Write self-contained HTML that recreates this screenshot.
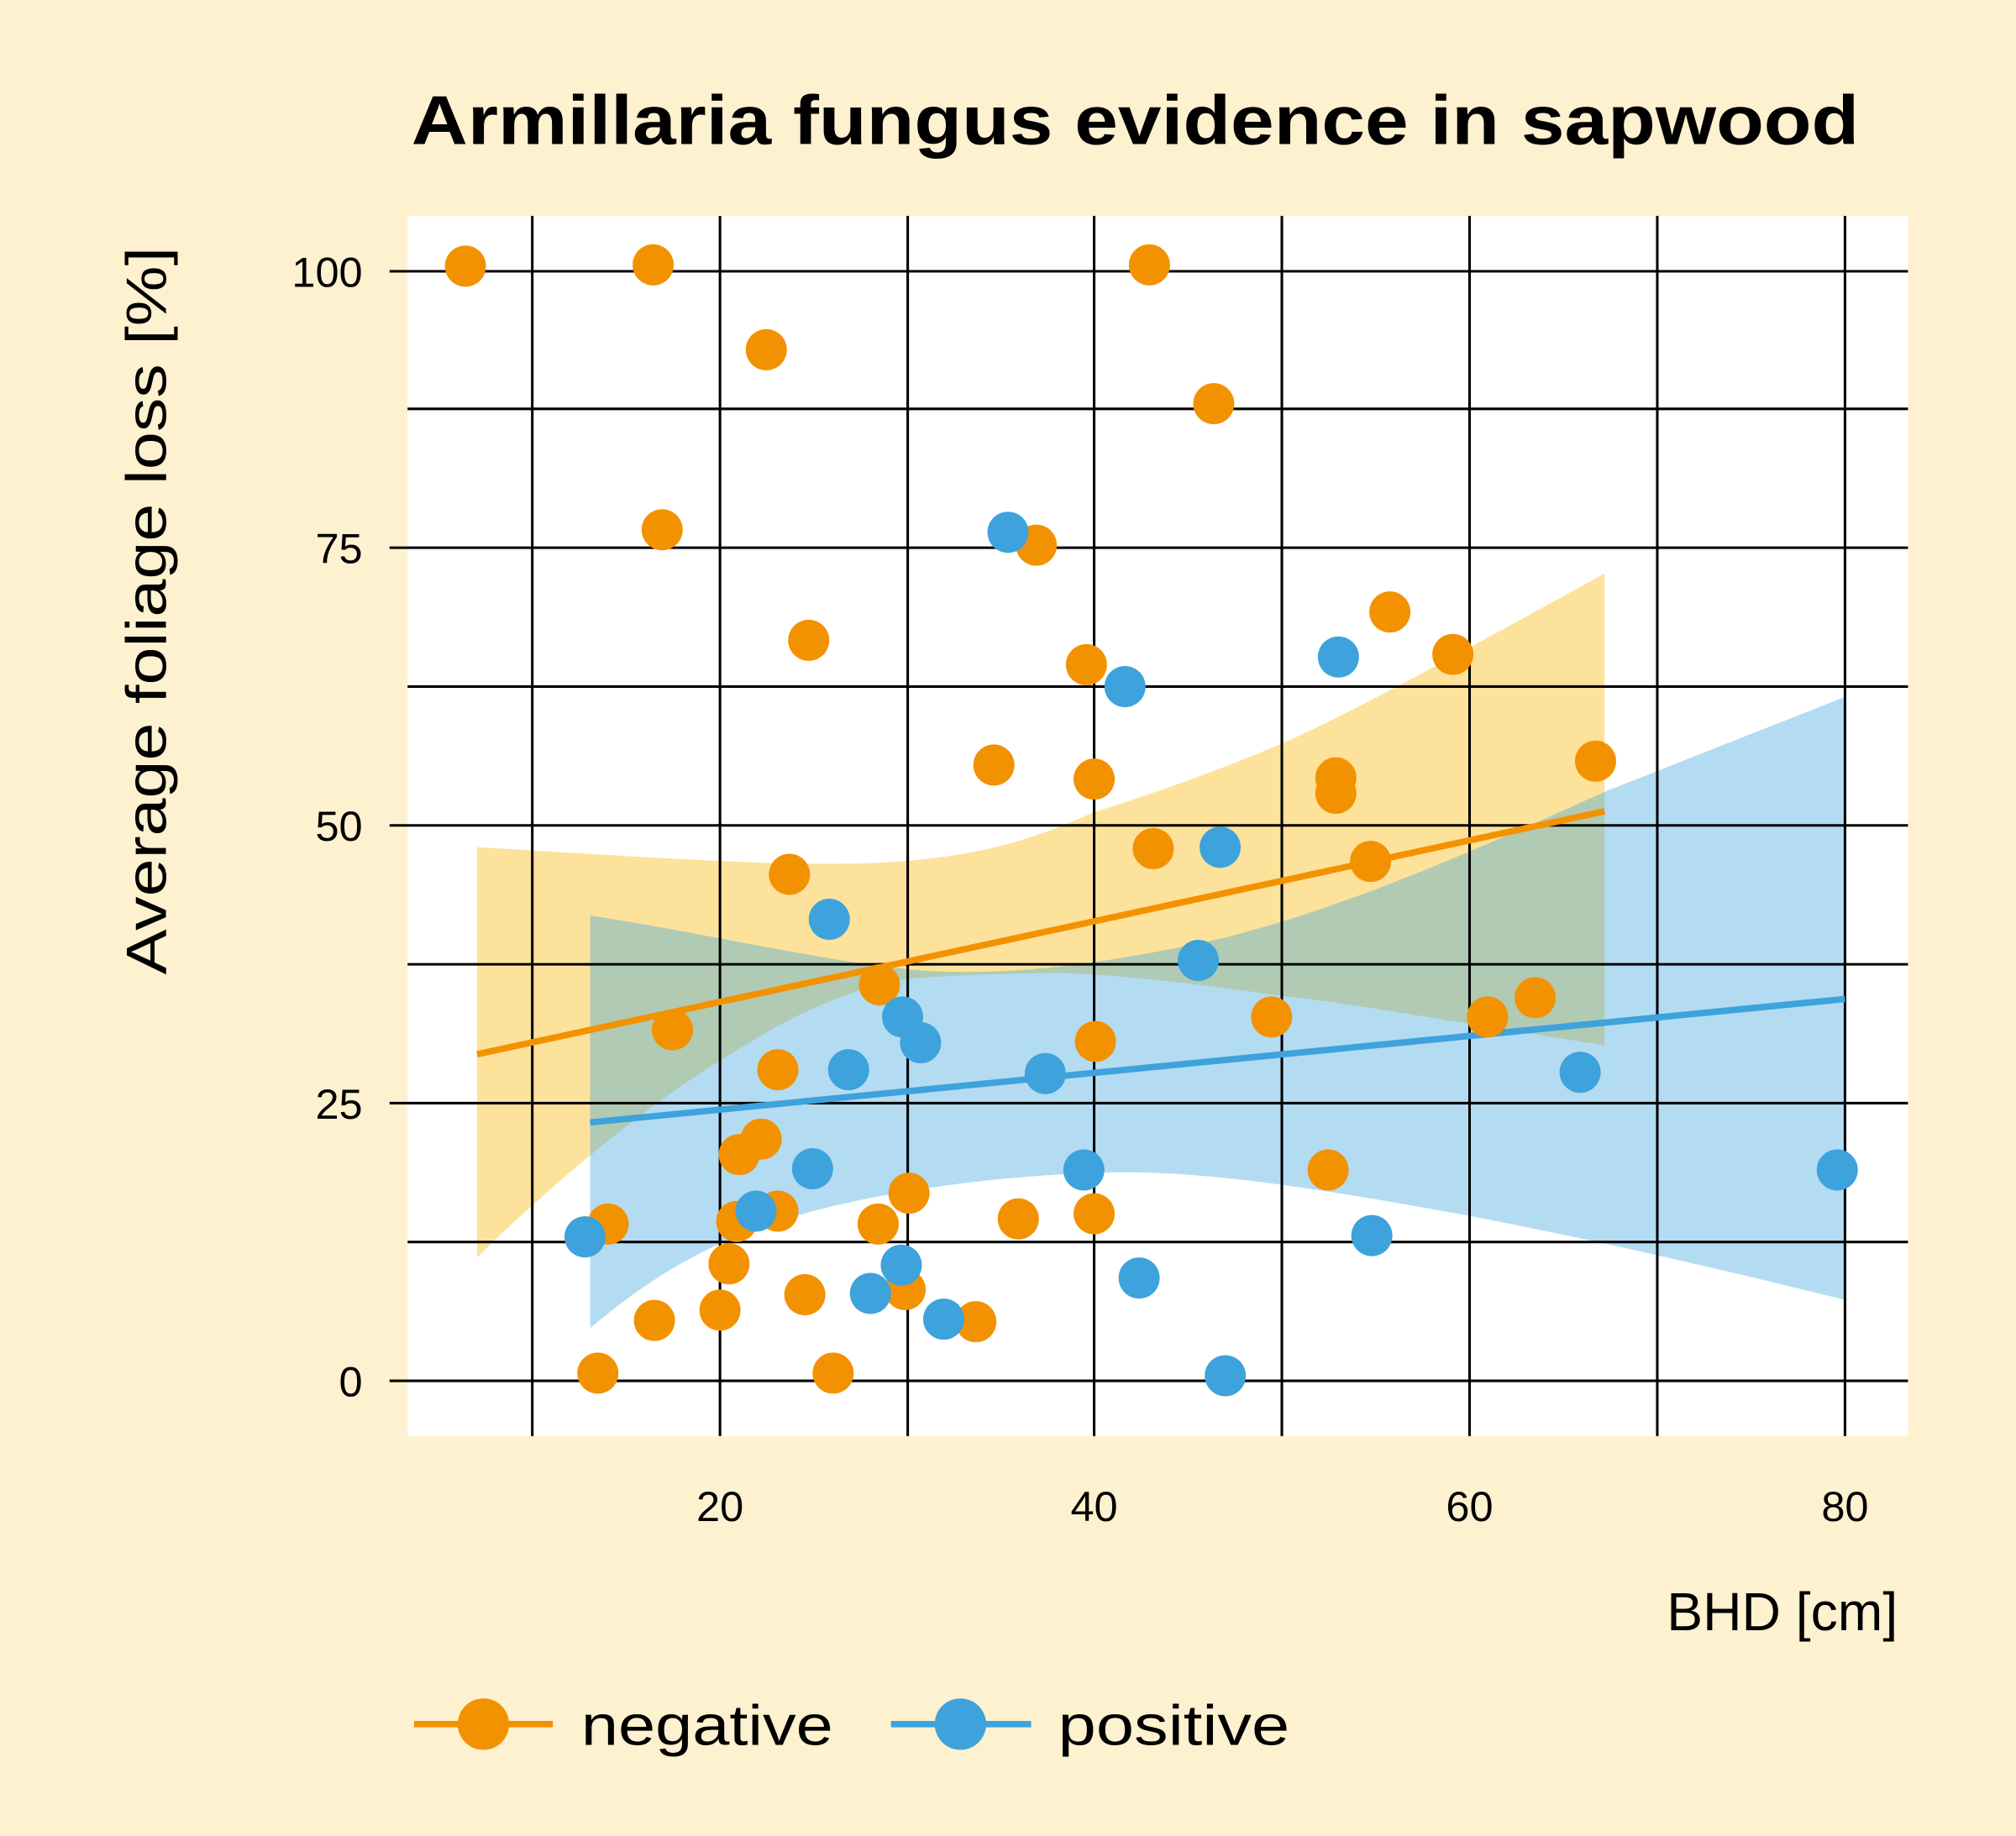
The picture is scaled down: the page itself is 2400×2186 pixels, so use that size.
<!DOCTYPE html>
<html><head><meta charset="utf-8"><style>
html,body{margin:0;padding:0;background:#fef1cf;}
svg{display:block;}
text{font-family:"Liberation Sans",sans-serif;fill:#000;}
</style></head><body>
<svg width="2400" height="2186" viewBox="0 0 1568 1428" preserveAspectRatio="none" xmlns="http://www.w3.org/2000/svg">
<rect width="1568" height="1428" fill="#fef1cf"/>
<text x="320" y="112" font-size="54" font-weight="bold" textLength="1126" lengthAdjust="spacingAndGlyphs">Armillaria fungus evidence in sapwood</text>
<rect x="317" y="168" width="1167" height="949" fill="#fff"/>
<path d="M371,659 C500,666 620,676 700,670 C780,664 820,645 850,632 C920,610 970,590 1000,577 C1060,550 1150,500 1248,446 L1248,813 C1150,798 1050,780 1000,775 C930,765 850,755 800,757 C750,758 720,760 700,762 C640,775 600,800 560,825 C500,862 430,920 371,978 Z" fill="#fce29b"/>
<path d="M459,712 C550,726 650,750 720,755 C800,760 880,745 950,730 C1050,705 1150,660 1250,615 L1435,542 L1435,1011 C1330,985 1200,955 1100,938 C1000,920 920,910 860,912 C780,914 700,925 640,940 C560,960 510,990 459,1033 Z" fill="rgb(50,160,220)" fill-opacity="0.37"/>
<g stroke="#000" stroke-width="2">
<line x1="414" y1="168" x2="414" y2="1117"/><line x1="560" y1="168" x2="560" y2="1117"/>
<line x1="706" y1="168" x2="706" y2="1117"/><line x1="851" y1="168" x2="851" y2="1117"/>
<line x1="997" y1="168" x2="997" y2="1117"/><line x1="1143" y1="168" x2="1143" y2="1117"/>
<line x1="1289" y1="168" x2="1289" y2="1117"/><line x1="1435" y1="168" x2="1435" y2="1117"/>
<line x1="303" y1="211" x2="1484" y2="211"/><line x1="317" y1="318" x2="1484" y2="318"/>
<line x1="303" y1="426" x2="1484" y2="426"/><line x1="317" y1="534" x2="1484" y2="534"/>
<line x1="303" y1="642" x2="1484" y2="642"/><line x1="317" y1="750" x2="1484" y2="750"/>
<line x1="303" y1="858" x2="1484" y2="858"/><line x1="317" y1="966" x2="1484" y2="966"/>
<line x1="303" y1="1074" x2="1484" y2="1074"/>
</g>
<line x1="371" y1="820" x2="1248" y2="631" stroke="#f39200" stroke-width="5"/>
<line x1="459" y1="873" x2="1435" y2="777" stroke="#3ea2dc" stroke-width="5"/>
<g fill="#f39200">
<circle cx="362" cy="207" r="16"/><circle cx="508" cy="206" r="16"/><circle cx="894" cy="206" r="16"/><circle cx="596" cy="272" r="16"/><circle cx="944" cy="314" r="16"/><circle cx="515" cy="412" r="16"/><circle cx="806" cy="424" r="16"/><circle cx="629" cy="498" r="16"/><circle cx="1081" cy="476" r="16"/><circle cx="845" cy="517" r="16"/><circle cx="1130" cy="509" r="16"/><circle cx="773" cy="595" r="16"/><circle cx="851" cy="606" r="16"/><circle cx="1241" cy="592" r="16"/><circle cx="1039" cy="605" r="16"/><circle cx="1039" cy="617" r="16"/><circle cx="897" cy="660" r="16"/><circle cx="614" cy="680" r="16"/><circle cx="1066" cy="670" r="16"/><circle cx="684" cy="766" r="16"/><circle cx="523" cy="801" r="16"/><circle cx="989" cy="791" r="16"/><circle cx="1157" cy="791" r="16"/><circle cx="1194" cy="776" r="16"/><circle cx="852" cy="810" r="16"/><circle cx="605" cy="832" r="16"/><circle cx="592" cy="886" r="16"/><circle cx="575" cy="898" r="16"/><circle cx="1033" cy="910" r="16"/><circle cx="473" cy="952" r="16"/><circle cx="605" cy="942" r="16"/><circle cx="573" cy="950" r="16"/><circle cx="707" cy="928" r="16"/><circle cx="683" cy="952" r="16"/><circle cx="792" cy="948" r="16"/><circle cx="851" cy="944" r="16"/><circle cx="567" cy="983" r="16"/><circle cx="509" cy="1027" r="16"/><circle cx="560" cy="1019" r="16"/><circle cx="626" cy="1007" r="16"/><circle cx="704" cy="1003" r="16"/><circle cx="759" cy="1028" r="16"/><circle cx="465" cy="1068" r="16"/><circle cx="648" cy="1068" r="16"/>
</g>
<g fill="#3ea2dc">
<circle cx="784" cy="414" r="16"/><circle cx="875" cy="534" r="16"/><circle cx="1041" cy="511" r="16"/><circle cx="645" cy="715" r="16"/><circle cx="949" cy="659" r="16"/><circle cx="932" cy="747" r="16"/><circle cx="702" cy="791" r="16"/><circle cx="716" cy="811" r="16"/><circle cx="660" cy="832" r="16"/><circle cx="813" cy="835" r="16"/><circle cx="1229" cy="834" r="16"/><circle cx="632" cy="909" r="16"/><circle cx="843" cy="910" r="16"/><circle cx="1429" cy="910" r="16"/><circle cx="455" cy="962" r="16"/><circle cx="588" cy="942" r="16"/><circle cx="1067" cy="961" r="16"/><circle cx="701" cy="984" r="16"/><circle cx="677" cy="1006" r="16"/><circle cx="886" cy="994" r="16"/><circle cx="734" cy="1026" r="16"/><circle cx="953" cy="1070" r="16"/>
</g>
<g font-size="33" text-anchor="end">
<text x="282" y="223">100</text><text x="282" y="438">75</text><text x="282" y="654">50</text><text x="282" y="870">25</text><text x="282" y="1086">0</text>
</g>
<g font-size="33" text-anchor="middle">
<text x="560" y="1183">20</text><text x="851" y="1183">40</text><text x="1143" y="1183">60</text><text x="1435" y="1183">80</text>
</g>
<text x="1476" y="1268" font-size="42" text-anchor="end">BHD [cm]</text>
<text transform="translate(129,475) rotate(-90)" font-size="44" text-anchor="middle" textLength="566" lengthAdjust="spacingAndGlyphs">Average foliage loss [%]</text>
<line x1="322" y1="1341" x2="430" y2="1341" stroke="#f39200" stroke-width="5"/>
<circle cx="376" cy="1341" r="20" fill="#f39200"/>
<text x="452" y="1357" font-size="44" textLength="196" lengthAdjust="spacingAndGlyphs">negative</text>
<line x1="693" y1="1341" x2="802" y2="1341" stroke="#3ea2dc" stroke-width="5"/>
<circle cx="747" cy="1341" r="20" fill="#3ea2dc"/>
<text x="823" y="1357" font-size="44" textLength="180" lengthAdjust="spacingAndGlyphs">positive</text>
</svg>
</body></html>
